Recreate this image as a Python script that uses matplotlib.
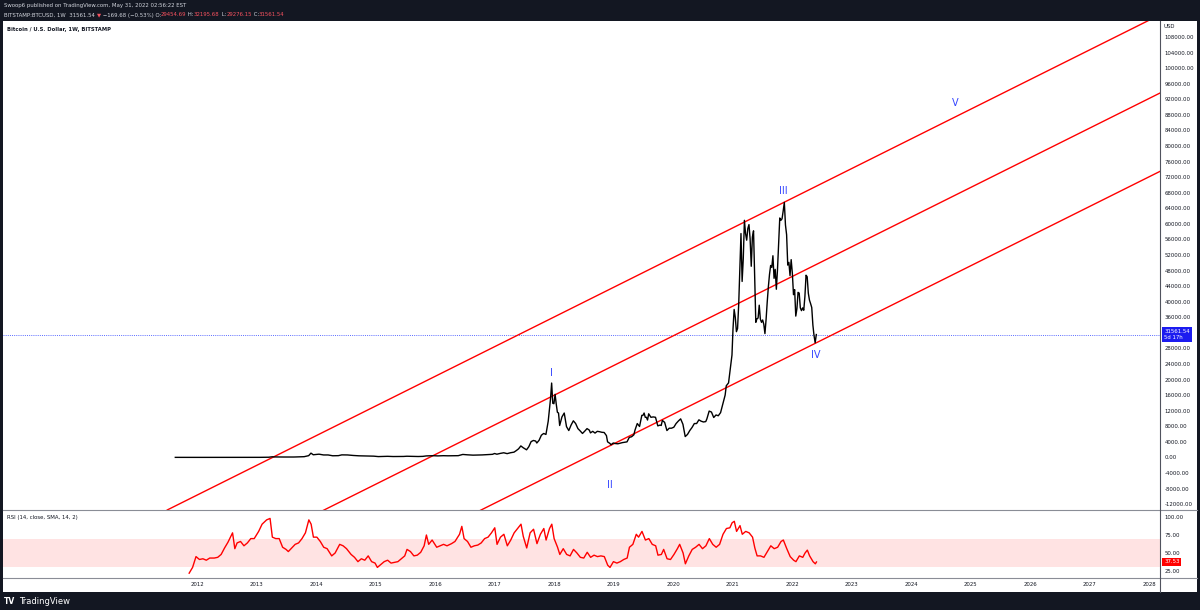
import pandas as pd
import matplotlib
matplotlib.use('Agg')
import matplotlib.pyplot as plt
from matplotlib.lines import Line2D
from matplotlib.patches import Rectangle
from matplotlib.transforms import blended_transform_factory

# Weekly BTCUSD closes (Bitstamp)
price_dates = [
    '2011-08-21', '2011-09-18', '2011-10-16', '2011-11-20', '2011-12-18',
    '2012-01-15', '2012-02-19', '2012-03-18', '2012-04-15', '2012-05-20', '2012-06-17',
    '2012-07-15', '2012-08-19', '2012-09-16', '2012-10-21', '2012-11-18', '2012-12-16',
    '2013-01-20', '2013-02-17', '2013-03-17', '2013-04-07', '2013-04-21', '2013-05-19',
    '2013-06-16', '2013-07-14', '2013-08-18', '2013-09-15', '2013-10-20', '2013-11-17',
    '2013-12-01', '2013-12-15', '2013-12-29',
    '2014-01-19', '2014-02-16', '2014-03-16', '2014-04-13', '2014-05-18', '2014-06-08',
    '2014-07-13', '2014-08-17', '2014-09-21', '2014-10-19', '2014-11-16', '2014-12-21',
    '2015-01-18', '2015-02-15', '2015-03-15', '2015-04-19', '2015-05-17', '2015-06-21',
    '2015-07-12', '2015-08-16', '2015-09-20', '2015-10-18', '2015-11-08', '2015-12-20',
    '2016-01-17', '2016-02-21', '2016-03-20', '2016-04-17', '2016-05-22', '2016-06-19',
    '2016-07-17', '2016-08-21', '2016-09-18', '2016-10-16', '2016-11-20', '2016-12-18',
    '2017-01-01', '2017-01-15', '2017-02-05', '2017-02-26', '2017-03-19', '2017-04-09',
    '2017-04-30', '2017-05-14', '2017-05-28', '2017-06-11', '2017-06-25', '2017-07-16',
    '2017-07-30', '2017-08-13', '2017-08-27', '2017-09-10', '2017-09-17', '2017-10-01',
    '2017-10-15', '2017-10-29', '2017-11-12', '2017-11-26', '2017-12-10', '2017-12-17',
    '2017-12-24', '2017-12-31',
    '2018-01-07', '2018-01-14', '2018-01-21', '2018-01-28', '2018-02-04', '2018-02-18',
    '2018-03-04', '2018-03-18', '2018-04-01', '2018-04-15', '2018-04-29', '2018-05-13',
    '2018-05-27', '2018-06-10', '2018-06-24', '2018-07-08', '2018-07-22', '2018-08-05',
    '2018-08-12', '2018-08-26', '2018-09-09', '2018-09-23', '2018-10-07', '2018-10-21',
    '2018-11-04', '2018-11-18', '2018-11-25', '2018-12-09', '2018-12-16', '2018-12-30',
    '2019-01-13', '2019-01-27', '2019-02-10', '2019-02-24', '2019-03-10', '2019-03-24',
    '2019-04-07', '2019-04-21', '2019-05-05', '2019-05-12', '2019-05-26', '2019-06-09',
    '2019-06-23', '2019-06-30', '2019-07-07', '2019-07-14', '2019-07-21', '2019-07-28',
    '2019-08-04', '2019-08-18', '2019-09-01', '2019-09-15', '2019-09-29', '2019-10-13',
    '2019-10-20', '2019-10-27', '2019-11-10', '2019-11-24', '2019-12-08', '2019-12-22',
    '2020-01-05', '2020-01-19', '2020-02-02', '2020-02-16', '2020-03-01', '2020-03-15',
    '2020-03-29', '2020-04-12', '2020-04-26', '2020-05-10', '2020-05-24', '2020-06-07',
    '2020-06-21', '2020-07-05', '2020-07-19', '2020-07-26', '2020-08-09', '2020-08-23',
    '2020-09-06', '2020-09-20', '2020-10-04', '2020-10-18', '2020-11-01', '2020-11-15',
    '2020-11-22', '2020-12-06', '2020-12-20', '2020-12-27',
    '2021-01-03', '2021-01-10', '2021-01-17', '2021-01-24', '2021-01-31', '2021-02-07',
    '2021-02-14', '2021-02-21', '2021-02-28', '2021-03-07', '2021-03-14', '2021-03-21',
    '2021-03-28', '2021-04-04', '2021-04-11', '2021-04-18', '2021-04-25', '2021-05-02',
    '2021-05-09', '2021-05-16', '2021-05-23', '2021-05-30', '2021-06-06', '2021-06-13',
    '2021-06-20', '2021-06-27', '2021-07-04', '2021-07-11', '2021-07-18', '2021-07-25',
    '2021-08-01', '2021-08-08', '2021-08-15', '2021-08-22', '2021-08-29', '2021-09-05',
    '2021-09-12', '2021-09-19', '2021-09-26', '2021-10-03', '2021-10-10', '2021-10-17',
    '2021-10-24', '2021-10-31', '2021-11-07', '2021-11-14', '2021-11-21', '2021-11-28',
    '2021-12-05', '2021-12-12', '2021-12-19', '2021-12-26',
    '2022-01-02', '2022-01-09', '2022-01-16', '2022-01-23', '2022-01-30', '2022-02-06',
    '2022-02-13', '2022-02-20', '2022-02-27', '2022-03-06', '2022-03-13', '2022-03-20',
    '2022-03-27', '2022-04-03', '2022-04-10', '2022-04-17', '2022-04-24', '2022-05-01',
    '2022-05-08', '2022-05-15', '2022-05-22', '2022-05-29',
]
price_close = [
    11, 5.5, 3.8, 2.5, 3.5,
    6.5, 4.9, 5.3, 4.9, 5.1, 6.4, 8.6, 10.5, 11.8, 11.7, 11.8, 13.3,
    17, 27, 47, 160, 120, 122, 100, 95, 100, 130, 185, 450, 1100, 680, 740,
    830, 630, 630, 420, 450, 650, 630, 500, 410, 385, 380, 320,
    210, 235, 280, 225, 237, 245, 300, 260, 230, 265, 380, 440,
    385, 440, 410, 430, 445, 760, 665, 580, 610, 640, 730, 790,
    1000, 820, 1030, 1190, 970, 1200, 1350, 1750, 2200, 2950, 2500, 1950,
    2750, 4050, 4350, 4200, 3700, 4400, 5700, 6150, 5900, 9300, 15000, 19100,
    13900, 13800,
    16200, 13700, 11600, 11400, 8200, 10400, 11400, 7900, 6900, 8300, 9400, 8700,
    7400, 6800, 6150, 6750, 7400, 7000, 6300, 6700, 6250, 6700, 6600, 6450,
    6400, 5600, 4000, 3600, 3250, 3700,
    3550, 3500, 3650, 3800, 3900, 3990, 5150, 5300, 5800, 7000, 8700, 7950,
    10800, 10800, 11400, 10300, 10300, 9600, 11200, 10300, 10400, 10300, 8100, 8300,
    8200, 9500, 9000, 6900, 7500, 7500,
    7750, 8700, 9350, 9900, 8500, 5350, 5900, 6900, 7700, 8700, 8700, 9650,
    9300, 9100, 9200, 9900, 11900, 11650, 10250, 10900, 10700, 11500, 13750, 16000,
    18400, 19150, 23800, 26300,
    33000, 38000, 36000, 32300, 33100, 39300, 48600, 57500, 45200, 51000, 60900, 57500,
    55800, 58800, 59800, 56200, 49100, 56600, 58200, 46400, 34700, 35600, 35800, 39100,
    35500, 34700, 35300, 34200, 31800, 35400, 39900, 43800, 47000, 49300, 48800, 51800,
    46000, 48300, 43200, 48200, 55000, 61500, 60900, 61300, 63300, 65500, 59700, 57200,
    49400, 50100, 46700, 50800,
    47300, 41800, 43100, 36300, 38200, 42400, 42200, 38400, 37700, 38400, 37800, 41300,
    46800, 46400, 42200, 40400, 39500, 38500, 34000, 31300, 29450, 31561.54,
]

# RSI (14) values
rsi_dates = [
    '2011-11-14', '2011-12-05', '2011-12-26', '2012-01-16', '2012-02-06', '2012-02-27',
    '2012-03-19', '2012-04-16', '2012-05-07', '2012-05-28', '2012-06-18', '2012-07-09',
    '2012-08-06', '2012-08-20', '2012-09-03', '2012-09-24', '2012-10-15', '2012-11-05',
    '2012-11-26', '2012-12-17', '2013-01-14', '2013-02-04', '2013-03-04', '2013-03-25',
    '2013-04-08', '2013-04-29', '2013-05-20', '2013-06-10', '2013-07-01', '2013-07-15',
    '2013-08-05', '2013-08-26', '2013-09-16', '2013-10-07', '2013-10-28', '2013-11-18',
    '2013-12-02', '2013-12-16', '2014-01-06', '2014-01-27', '2014-02-17', '2014-03-10',
    '2014-04-07', '2014-04-28', '2014-05-26', '2014-06-16', '2014-07-07', '2014-08-04',
    '2014-08-25', '2014-09-15', '2014-10-06', '2014-10-27', '2014-11-17', '2014-12-08',
    '2014-12-29', '2015-01-12', '2015-02-02', '2015-02-23', '2015-03-16', '2015-04-06',
    '2015-04-27', '2015-05-18', '2015-06-08', '2015-06-29', '2015-07-13', '2015-08-03',
    '2015-08-24', '2015-09-14', '2015-10-05', '2015-10-26', '2015-11-09', '2015-11-23',
    '2015-12-14', '2016-01-11', '2016-02-01', '2016-02-22', '2016-03-14', '2016-04-11',
    '2016-05-02', '2016-05-30', '2016-06-13', '2016-06-27', '2016-07-18', '2016-08-08',
    '2016-08-29', '2016-09-19', '2016-10-10', '2016-10-31', '2016-11-21', '2016-12-12',
    '2017-01-02', '2017-01-16', '2017-02-06', '2017-02-27', '2017-03-20', '2017-04-10',
    '2017-05-01', '2017-05-29', '2017-06-12', '2017-06-26', '2017-07-17', '2017-08-07',
    '2017-08-28', '2017-09-18', '2017-10-09', '2017-10-30', '2017-11-13', '2017-12-04',
    '2017-12-18', '2018-01-01', '2018-01-22', '2018-02-05', '2018-02-26', '2018-03-19',
    '2018-04-09', '2018-04-30', '2018-05-21', '2018-06-11', '2018-07-02', '2018-07-23',
    '2018-08-13', '2018-09-03', '2018-09-24', '2018-10-15', '2018-11-05', '2018-11-26',
    '2018-12-10', '2018-12-31', '2019-01-21', '2019-02-11', '2019-03-04', '2019-03-25',
    '2019-04-08', '2019-04-29', '2019-05-20', '2019-06-03', '2019-06-24', '2019-07-15',
    '2019-08-05', '2019-08-26', '2019-09-16', '2019-09-30', '2019-10-21', '2019-11-04',
    '2019-11-25', '2019-12-16', '2020-01-06', '2020-01-27', '2020-02-10', '2020-03-02',
    '2020-03-16', '2020-04-06', '2020-04-27', '2020-05-18', '2020-06-08', '2020-06-29',
    '2020-07-20', '2020-08-10', '2020-08-31', '2020-09-21', '2020-10-12', '2020-11-02',
    '2020-11-23', '2020-12-14', '2020-12-28', '2021-01-11', '2021-01-25', '2021-02-15',
    '2021-03-01', '2021-03-22', '2021-04-12', '2021-05-03', '2021-05-17', '2021-05-31',
    '2021-06-21', '2021-07-12', '2021-08-02', '2021-08-23', '2021-09-13', '2021-10-04',
    '2021-10-25', '2021-11-08', '2021-11-29', '2021-12-20', '2022-01-10', '2022-01-24',
    '2022-02-14', '2022-03-07', '2022-03-21', '2022-04-04', '2022-04-18', '2022-05-09',
    '2022-05-23', '2022-05-30',
]
rsi_values = [
    22, 30, 45, 41, 42, 40, 43, 43, 44, 48, 57, 65,
    78, 56, 64, 66, 60, 64, 70, 70, 80, 90, 96, 98,
    72, 70, 70, 58, 55, 52, 57, 62, 64, 70, 78, 96,
    90, 72, 72, 66, 58, 56, 46, 50, 62, 60, 56, 48,
    44, 38, 42, 40, 46, 38, 36, 30, 34, 38, 40, 36,
    37, 38, 42, 46, 55, 52, 46, 47, 51, 60, 75, 62,
    68, 58, 60, 62, 60, 63, 66, 76, 87, 70, 66, 58,
    60, 61, 64, 70, 72, 78, 85, 62, 72, 76, 60, 68,
    78, 86, 90, 73, 57, 78, 83, 63, 76, 84, 68, 84,
    90, 70, 58, 48, 56, 48, 46, 55, 50, 44, 43, 51,
    44, 47, 45, 46, 45, 33, 30, 38, 36, 38, 41, 43,
    58, 62, 76, 72, 80, 68, 70, 62, 60, 47, 48, 55,
    42, 41, 48, 56, 62, 50, 35, 46, 55, 58, 62, 56,
    60, 70, 62, 58, 62, 76, 84, 85, 92, 94, 80, 88,
    76, 80, 78, 72, 57, 46, 46, 44, 52, 60, 56, 58,
    66, 68, 56, 45, 40, 38, 46, 44, 50, 54, 46, 38,
    35, 37.53,
]

# Parallel channel (trendline endpoints) and Elliott wave labels
channel_years = [2011.5, 2028.2]
channel_upper = [-13500, 113850]
channel_middle = [-33600, 93750]
channel_lower = [-53720, 73630]

wave_labels = ['I', 'II', 'III', 'IV', 'V']
wave_years = [2017.95, 2018.94, 2021.85, 2022.39, 2024.74]
wave_prices = [21800, -7180, 68500, 26200, 91000]

last_price = 31561.54
last_rsi = 37.53
year_ticks = list(range(2012, 2029))
# 32000 is hidden behind the last-price tag on the scale
price_ticks = [v for v in range(-12000, 108001, 4000) if v != 32000]


def dec_year(dates):
    t = pd.to_datetime(pd.Series(dates))
    return (t.dt.year + (t.dt.dayofyear - 1) / 365.25).values


W, H = 1200, 610
DARK = '#131722'
TXT = '#131722'
BLUE = '#3344ff'
RED = '#ff0000'
FS = 3.9

fig = plt.figure(figsize=(W / 100, H / 100), dpi=100)
fig.patch.set_facecolor(DARK)
fig.add_artist(Rectangle((3 / W, 1 - 592 / H), 1194 / W, 571 / H, transform=fig.transFigure,
                         facecolor='white', edgecolor='none', zorder=-10))

ax = fig.add_axes([3 / W, 1 - 510 / H, 1157 / W, 489 / H])
rsi_ax = fig.add_axes([3 / W, 1 - 578 / H, 1157 / W, 68 / H], sharex=ax)

# Price pane
px = dec_year(price_dates)
ax.plot(px, price_close, color='black', lw=1.0, zorder=3)
ax.plot(channel_years, channel_upper, color=RED, lw=1.0, zorder=2)
ax.plot(channel_years, channel_middle, color=RED, lw=1.0, zorder=2)
ax.plot(channel_years, channel_lower, color=RED, lw=1.0, zorder=2)
ax.axhline(last_price, color='#5a6bff', lw=0.7, ls=(0, (1, 1.2)), zorder=1)
for lab, wx, wy in zip(wave_labels, wave_years, wave_prices):
    ax.text(wx, wy, lab, color=BLUE, fontsize=7, ha='center', va='center', zorder=4)

ax.set_xlim(2008.74, 2028.18)
ax.set_ylim(-13510, 112100)
ax.yaxis.tick_right()
ax.set_yticks(price_ticks)
ax.set_yticklabels([f'{v:.2f}' for v in price_ticks])
ax.tick_params(axis='y', length=0, pad=3.5, labelsize=FS, labelcolor=TXT)
ax.tick_params(axis='x', length=0, labelbottom=False)
for s in ax.spines.values():
    s.set_visible(False)

bt = blended_transform_factory(ax.transAxes, ax.transData)
ax.text(1.0035, last_price, f'{last_price:.2f}\n5d 17h', transform=bt, ha='left', va='center',
        fontsize=FS, color='white', linespacing=1.1, zorder=6,
        bbox=dict(boxstyle='square,pad=0.35', facecolor='#1c1cf0', edgecolor='none'))

# RSI pane
rsi_ax.axhspan(30, 70, color='#ff0000', alpha=0.11, lw=0)
rsi_ax.plot(dec_year(rsi_dates), rsi_values, color=RED, lw=1.0)
rsi_ax.set_ylim(15.3, 109.7)
rsi_ax.yaxis.tick_right()
rsi_ax.set_yticks([25, 50, 75, 100])
rsi_ax.set_yticklabels(['25.00', '50.00', '75.00', '100.00'])
rsi_ax.tick_params(axis='y', length=0, pad=3.5, labelsize=FS, labelcolor=TXT)
rsi_ax.set_xticks(year_ticks)
rsi_ax.set_xticklabels([str(y) for y in year_ticks])
rsi_ax.tick_params(axis='x', length=0, pad=3, labelsize=FS, labelcolor=TXT)
for s in rsi_ax.spines.values():
    s.set_visible(False)
bt2 = blended_transform_factory(rsi_ax.transAxes, rsi_ax.transData)
rsi_ax.text(1.0035, last_rsi, f'{last_rsi:.2f}', transform=bt2, ha='left', va='center',
            fontsize=FS, color='white', zorder=6,
            bbox=dict(boxstyle='square,pad=0.3', facecolor=RED, edgecolor='none'))

# pane separators
sep = '#8a8d96'
for yy in (510, 578):
    fig.add_artist(Line2D([3 / W, 1197 / W], [1 - yy / H, 1 - yy / H], color=sep, lw=0.8))
fig.add_artist(Line2D([1160 / W, 1160 / W], [1 - 21 / H, 1 - 592 / H], color='#50535e', lw=0.8))

# labels inside the chart
fig.text(7 / W, 1 - 30 / H, 'Bitcoin / U.S. Dollar, 1W, BITSTAMP', fontsize=3.8, color=TXT,
         fontweight='bold', va='center')
fig.text(7 / W, 1 - 518 / H, 'RSI (14, close, SMA, 14, 2)', fontsize=FS, color=TXT, va='center')
fig.text(1164 / W, 1 - 27 / H, 'USD', fontsize=FS, color=TXT, va='center')

# header
fig.text(4 / W, 1 - 6 / H, 'Swoop6 published on TradingView.com, May 31, 2022 02:56:22 EST',
         fontsize=3.9, color='#d1d4dc', va='center')
segments = [
    ('BITSTAMP:BTCUSD, 1W  31561.54 ', '#d1d4dc'), ('\u25bc', '#f7525f'),
    (' \u2212169.68 (\u22120.53%) O:', '#d1d4dc'), ('29454.69', '#f7525f'),
    (' H:', '#d1d4dc'), ('32195.68', '#f7525f'), (' L:', '#d1d4dc'),
    ('29276.15', '#f7525f'), (' C:', '#d1d4dc'), ('31561.54', '#f7525f'),
]
renderer = fig.canvas.get_renderer()
xpos = 4
for s, c in segments:
    t = fig.text(xpos / W, 1 - 15 / H, s, fontsize=3.9, color=c, va='center')
    xpos += t.get_window_extent(renderer=renderer).width

# footer logo
fig.text(4 / W, 1 - 601 / H, 'TV', fontsize=5.5, color='white', fontweight='heavy', va='center')
fig.text(19 / W, 1 - 601 / H, 'TradingView', fontsize=6, color='white', va='center')

fig.savefig('out.png', dpi=100, facecolor=DARK)
